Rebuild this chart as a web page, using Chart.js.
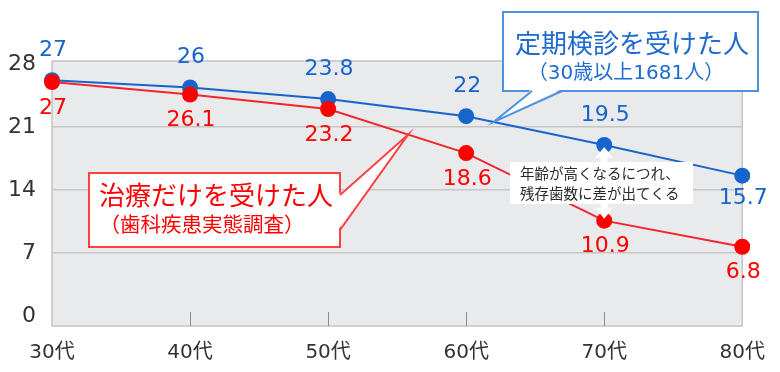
<!DOCTYPE html>
<html lang="ja">
<head>
<meta charset="utf-8">
<script src="https://cdn.jsdelivr.net/npm/chart.js@4/dist/chart.umd.min.js"></script>
<style>
  html, body { margin: 0; padding: 0; background: #fff; }
  #wrap { width: 780px; height: 372px; }
</style>
</head>
<body>
<div id="wrap"><canvas id="teethChart" width="780" height="372"></canvas></div>
<script>
const ageGroups = ['30代', '40代', '50代', '60代', '70代', '80代'];
// line positions as drawn in the picture, and the numbers printed next to them
const checkupValues = [26.2, 25.4, 24.1, 22.2, 19.0, 15.6];
const checkupLabels = ['27', '26', '23.8', '22', '19.5', '15.7'];
const treatmentValues = [26.0, 24.6, 23.0, 18.1, 10.6, 7.7];
const treatmentLabels = ['27', '26.1', '23.2', '18.6', '10.9', '6.8'];
const yTicks = [0, 7, 14, 21, 28];

const BLUE = '#1664cc';
const RED = '#ff0000';
const numFont = '"DejaVu Sans", "Noto Sans CJK JP", sans-serif';
const jpFont = '"Noto Sans CJK JP", sans-serif';

const plotFrame = {
    id: 'plotFrame',
    beforeDraw(chart) {
        const { ctx, chartArea: a } = chart;
        ctx.save();
        ctx.fillStyle = '#e9eaec';
        ctx.fillRect(a.left, a.top, a.right - a.left, a.bottom - a.top);
        ctx.restore();
    },
    beforeDatasetsDraw(chart) {
        const { ctx, chartArea: a, scales: { x } } = chart;
        ctx.save();
        ctx.strokeStyle = '#c4c4c4';
        ctx.lineWidth = 1.5;
        ctx.strokeRect(a.left, a.top, a.right - a.left, a.bottom - a.top);
        // small tick marks at the bottom
        ctx.strokeStyle = '#8c8c8c';
        ctx.lineWidth = 1;
        for (let i = 1; i < ageGroups.length - 1; i++) {
            const px = Math.round(x.getPixelForValue(i)) + 0.5;
            ctx.beginPath();
            ctx.moveTo(px, a.bottom);
            ctx.lineTo(px, a.bottom - 14);
            ctx.stroke();
        }
        ctx.restore();
    }
};

const valueLabels = {
    id: 'valueLabels',
    afterDatasetsDraw(chart) {
        const ctx = chart.ctx;
        ctx.save();
        ctx.font = '22px ' + numFont;
        ctx.textAlign = 'center';
        ctx.textBaseline = 'middle';
        chart.data.datasets.forEach((ds, di) => {
            const meta = chart.getDatasetMeta(di);
            meta.data.forEach((pt, i) => {
                let dy;
                if (ds.labelSide === 'above') dy = (i === meta.data.length - 1) ? 23 : -30;
                else dy = 26;
                ctx.fillStyle = ds.labelSide === 'above' ? BLUE : RED;
                ctx.fillText(ds.printed[i], pt.x + 1, pt.y + dy);
            });
        });

        // white double arrow between the 70代 points
        const top = chart.getDatasetMeta(0).data[4];
        const bottom = chart.getDatasetMeta(1).data[4];
        const ax = top.x, y1 = top.y + 2, y2 = bottom.y - 2;
        const head = 11, hw = 9, sw = 3.5;
        ctx.beginPath();
        ctx.moveTo(ax, y1);
        ctx.lineTo(ax + hw, y1 + head);
        ctx.lineTo(ax + sw, y1 + head);
        ctx.lineTo(ax + sw, y2 - head);
        ctx.lineTo(ax + hw, y2 - head);
        ctx.lineTo(ax, y2);
        ctx.lineTo(ax - hw, y2 - head);
        ctx.lineTo(ax - sw, y2 - head);
        ctx.lineTo(ax - sw, y1 + head);
        ctx.lineTo(ax - hw, y1 + head);
        ctx.closePath();
        ctx.fillStyle = '#fff';
        ctx.fill();
        ctx.restore();
    }
};

function lerpPoint(p, q, t) {
    return { x: p.x + (q.x - p.x) * t, y: p.y + (q.y - p.y) * t };
}

function drawCallout(ctx, box, b1, b2, b1in, b2in, tip, stroke) {
    ctx.fillStyle = '#fff';
    ctx.strokeStyle = stroke;
    ctx.lineWidth = 2;
    ctx.fillRect(box.x, box.y, box.w, box.h);
    ctx.strokeRect(box.x, box.y, box.w, box.h);
    ctx.beginPath();
    ctx.moveTo(b1in.x, b1in.y);
    ctx.lineTo(tip.x, tip.y);
    ctx.lineTo(b2in.x, b2in.y);
    ctx.closePath();
    ctx.fill();
    ctx.beginPath();
    ctx.moveTo(b1.x, b1.y);
    ctx.lineTo(tip.x, tip.y);
    ctx.lineTo(b2.x, b2.y);
    ctx.stroke();
}

const notes = {
    id: 'notes',
    afterDraw(chart) {
        const ctx = chart.ctx;
        const blue = chart.getDatasetMeta(0).data;
        const red = chart.getDatasetMeta(1).data;
        ctx.save();

        // note box in the middle
        ctx.fillStyle = '#fff';
        ctx.fillRect(510, 162, 183, 42);
        ctx.fillStyle = '#2a2a2a';
        ctx.font = '14.5px ' + jpFont;
        ctx.textAlign = 'left';
        ctx.textBaseline = 'middle';
        ctx.fillText('年齢が高くなるにつれ、', 520, 173);
        ctx.fillText('残存歯数に差が出てくる', 520, 193);

        // blue callout
        const bTip = lerpPoint(blue[3], blue[4], 0.2);
        drawCallout(ctx, { x: 503, y: 12, w: 255, h: 79 },
            { x: 532, y: 91 }, { x: 562, y: 91 },
            { x: 532, y: 89 }, { x: 562, y: 89 }, bTip, '#4f93de');
        ctx.fillStyle = '#1f6bd0';
        ctx.textAlign = 'center';
        ctx.font = '26px ' + jpFont;
        ctx.fillText('定期検診を受けた人', 632, 43);
        ctx.font = '20px ' + numFont;
        ctx.fillText('（30歳以上1681人）', 626, 74);

        // red callout
        const rTip = lerpPoint(red[2], red[3], 0.58);
        drawCallout(ctx, { x: 89, y: 173, w: 251, h: 74 },
            { x: 340, y: 195 }, { x: 340, y: 230 },
            { x: 338, y: 195 }, { x: 338, y: 230 }, rTip, '#ff4040');
        ctx.fillStyle = RED;
        ctx.font = '26px ' + jpFont;
        ctx.fillText('治療だけを受けた人', 216, 195);
        ctx.font = '20.5px ' + jpFont;
        ctx.fillText('（歯科疾患実態調査）', 202, 224);

        ctx.restore();
    }
};

new Chart(document.getElementById('teethChart').getContext('2d'), {
    type: 'line',
    data: {
        labels: ageGroups,
        datasets: [{
            label: '定期検診を受けた人',
            data: checkupValues,
            printed: checkupLabels,
            labelSide: 'above',
            borderColor: BLUE,
            backgroundColor: BLUE,
            borderWidth: 2,
            pointRadius: 8,
            pointBorderWidth: 0,
            pointBackgroundColor: BLUE,
            tension: 0,
            order: 1
        }, {
            label: '治療だけを受けた人',
            data: treatmentValues,
            printed: treatmentLabels,
            labelSide: 'below',
            borderColor: '#f2262e',
            backgroundColor: RED,
            borderWidth: 2,
            pointRadius: 8,
            pointBorderWidth: 0,
            pointBackgroundColor: RED,
            tension: 0,
            order: 0
        }]
    },
    options: {
        responsive: false,
        animation: false,
        devicePixelRatio: 1,
        layout: { padding: { top: 61, right: 35, left: 0, bottom: 0 } },
        plugins: { legend: { display: false }, tooltip: { enabled: false } },
        scales: {
            x: {
                grid: { display: false, drawTicks: false },
                border: { display: false },
                ticks: { color: '#333', font: { family: numFont, size: 20 }, padding: 15, maxRotation: 0, autoSkip: false },
                afterFit(scale) { scale.height = 46; }
            },
            y: {
                min: -1.1,
                max: 28.33,
                afterBuildTicks(scale) { scale.ticks = yTicks.map(v => ({ value: v })); },
                grid: {
                    drawTicks: false,
                    lineWidth: 1.5,
                    color: c => (c.tick && [7, 14, 21].includes(c.tick.value)) ? '#c6c6c6' : 'rgba(0,0,0,0)'
                },
                border: { display: false },
                ticks: { color: '#333', font: { family: numFont, size: 22 }, padding: 16 },
                afterFit(scale) { scale.width = 52; }
            }
        }
    },
    plugins: [plotFrame, valueLabels, notes]
});
</script>
</body>
</html>
